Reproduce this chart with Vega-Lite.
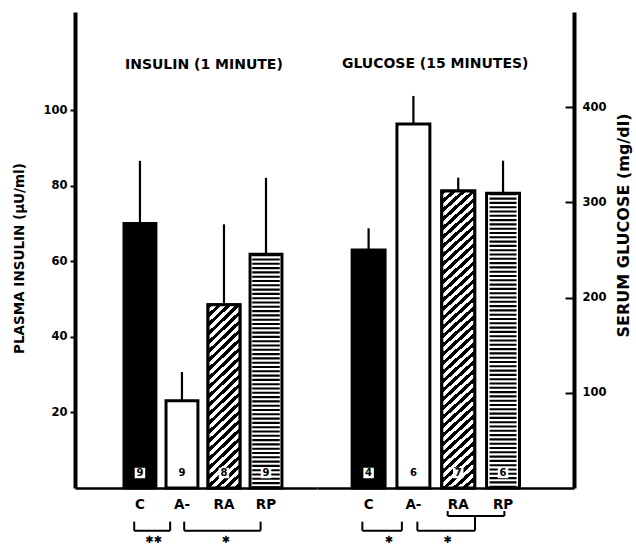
{
  "$schema": "https://vega.github.io/schema/vega-lite/v6.json",
  "padding": {"left": 12, "top": 12, "right": 5, "bottom": 0},
  "background": "white",
  "config": {"view": {"stroke": null}},
  "datasets": {
    "insulin": [
      {"g": "C", "v": 70.0, "hi": 86.6, "n": 9},
      {"g": "A-", "v": 23.1, "hi": 30.7, "n": 9},
      {"g": "RA", "v": 48.5, "hi": 69.8, "n": 8},
      {"g": "RP", "v": 61.9, "hi": 82.1, "n": 9}
    ],
    "glucose": [
      {"g": "C", "v": 250, "hi": 272.8, "n": 4},
      {"g": "A-", "v": 382.4, "hi": 411.8, "n": 6},
      {"g": "RA", "v": 312, "hi": 326, "n": 7},
      {"g": "RP", "v": 309.6, "hi": 343.8, "n": 6}
    ]
  },
  "hconcat": [
    {
      "width": 242,
      "height": 476,
      "data": {"name": "insulin"},
      "layer": [
        {
          "mark": {"type": "rule", "strokeWidth": 2.2, "color": "black"},
          "encoding": {
            "x": {"field": "g", "type": "nominal",
              "scale": {"domain": ["C", "A-", "RA", "RP"], "paddingInner": 0.241, "paddingOuter": 1.13, "align": 0.583},
              "axis": {"title": null, "ticks": false, "domainWidth": 2.5, "domainColor": "black", "labelAngle": 0,
                "labelFont": "DejaVu Sans", "labelFontWeight": "bold", "labelFontSize": 13.5, "labelColor": "black", "labelPadding": 9}},
            "y": {"field": "hi", "type": "quantitative",
              "scale": {"domain": [0, 126], "nice": false},
              "axis": {"title": "PLASMA INSULIN (µU/ml)", "values": [20, 40, 60, 80, 100], "grid": false,
                "domainWidth": 4, "domainColor": "black", "tickColor": "black", "tickWidth": 2, "tickSize": 5,
                "labelPadding": 3, "labelFont": "DejaVu Sans", "labelFontWeight": "bold", "labelFontSize": 11.5, "labelColor": "black",
                "titleFont": "DejaVu Sans", "titleFontWeight": "bold", "titleFontSize": 13.5, "titleColor": "black",
                "titleX": -55.5, "titleY": 246, "titleAngle": 270, "titleBaseline": "middle", "titleAlign": "center"}},
            "y2": {"field": "v"}
          }
        },
        {
          "mark": {"type": "bar", "stroke": "black", "strokeWidth": 3, "strokeJoin": "miter"},
          "encoding": {
            "x": {"field": "g", "type": "nominal"},
            "y": {"field": "v", "type": "quantitative"},
            "fill": {"condition": {"test": "datum.g === 'C'", "value": "black"}, "value": "white"}
          }
        },
        {
          "transform": [{"filter": "datum.g === 'RA'"}],
          "mark": {"type": "bar", "stroke": "black", "strokeWidth": 3, "strokeJoin": "miter",
            "fill": {"gradient": "linear", "x1": 0, "y1": 0, "x2": 0.3183, "y2": 1.9121, "stops": [
              {"offset": 0, "color": "#000"}, {"offset": 0.0125, "color": "#000"},
              {"offset": 0.0125, "color": "#fff"}, {"offset": 0.025, "color": "#fff"},
              {"offset": 0.025, "color": "#000"}, {"offset": 0.0375, "color": "#000"},
              {"offset": 0.0375, "color": "#fff"}, {"offset": 0.05, "color": "#fff"},
              {"offset": 0.05, "color": "#000"}, {"offset": 0.0625, "color": "#000"},
              {"offset": 0.0625, "color": "#fff"}, {"offset": 0.075, "color": "#fff"},
              {"offset": 0.075, "color": "#000"}, {"offset": 0.0875, "color": "#000"},
              {"offset": 0.0875, "color": "#fff"}, {"offset": 0.1, "color": "#fff"},
              {"offset": 0.1, "color": "#000"}, {"offset": 0.1125, "color": "#000"},
              {"offset": 0.1125, "color": "#fff"}, {"offset": 0.125, "color": "#fff"},
              {"offset": 0.125, "color": "#000"}, {"offset": 0.1375, "color": "#000"},
              {"offset": 0.1375, "color": "#fff"}, {"offset": 0.15, "color": "#fff"},
              {"offset": 0.15, "color": "#000"}, {"offset": 0.1625, "color": "#000"},
              {"offset": 0.1625, "color": "#fff"}, {"offset": 0.175, "color": "#fff"},
              {"offset": 0.175, "color": "#000"}, {"offset": 0.1875, "color": "#000"},
              {"offset": 0.1875, "color": "#fff"}, {"offset": 0.2, "color": "#fff"},
              {"offset": 0.2, "color": "#000"}, {"offset": 0.2125, "color": "#000"},
              {"offset": 0.2125, "color": "#fff"}, {"offset": 0.225, "color": "#fff"},
              {"offset": 0.225, "color": "#000"}, {"offset": 0.2375, "color": "#000"},
              {"offset": 0.2375, "color": "#fff"}, {"offset": 0.25, "color": "#fff"},
              {"offset": 0.25, "color": "#000"}, {"offset": 0.2625, "color": "#000"},
              {"offset": 0.2625, "color": "#fff"}, {"offset": 0.275, "color": "#fff"},
              {"offset": 0.275, "color": "#000"}, {"offset": 0.2875, "color": "#000"},
              {"offset": 0.2875, "color": "#fff"}, {"offset": 0.3, "color": "#fff"},
              {"offset": 0.3, "color": "#000"}, {"offset": 0.3125, "color": "#000"},
              {"offset": 0.3125, "color": "#fff"}, {"offset": 0.325, "color": "#fff"},
              {"offset": 0.325, "color": "#000"}, {"offset": 0.3375, "color": "#000"},
              {"offset": 0.3375, "color": "#fff"}, {"offset": 0.35, "color": "#fff"},
              {"offset": 0.35, "color": "#000"}, {"offset": 0.3625, "color": "#000"},
              {"offset": 0.3625, "color": "#fff"}, {"offset": 0.375, "color": "#fff"},
              {"offset": 0.375, "color": "#000"}, {"offset": 0.3875, "color": "#000"},
              {"offset": 0.3875, "color": "#fff"}, {"offset": 0.4, "color": "#fff"},
              {"offset": 0.4, "color": "#000"}, {"offset": 0.4125, "color": "#000"},
              {"offset": 0.4125, "color": "#fff"}, {"offset": 0.425, "color": "#fff"},
              {"offset": 0.425, "color": "#000"}, {"offset": 0.4375, "color": "#000"},
              {"offset": 0.4375, "color": "#fff"}, {"offset": 0.45, "color": "#fff"},
              {"offset": 0.45, "color": "#000"}, {"offset": 0.4625, "color": "#000"},
              {"offset": 0.4625, "color": "#fff"}, {"offset": 0.475, "color": "#fff"},
              {"offset": 0.475, "color": "#000"}, {"offset": 0.4875, "color": "#000"},
              {"offset": 0.4875, "color": "#fff"}, {"offset": 0.5, "color": "#fff"},
              {"offset": 0.5, "color": "#000"}, {"offset": 0.5125, "color": "#000"},
              {"offset": 0.5125, "color": "#fff"}, {"offset": 0.525, "color": "#fff"},
              {"offset": 0.525, "color": "#000"}, {"offset": 0.5375, "color": "#000"},
              {"offset": 0.5375, "color": "#fff"}, {"offset": 0.55, "color": "#fff"},
              {"offset": 0.55, "color": "#000"}, {"offset": 0.5625, "color": "#000"},
              {"offset": 0.5625, "color": "#fff"}, {"offset": 0.575, "color": "#fff"},
              {"offset": 0.575, "color": "#000"}, {"offset": 0.5875, "color": "#000"},
              {"offset": 0.5875, "color": "#fff"}, {"offset": 0.6, "color": "#fff"}
            ]}},
          "encoding": {
            "x": {"field": "g", "type": "nominal"},
            "y": {"field": "v", "type": "quantitative"}
          }
        },
        {
          "transform": [{"filter": "datum.g === 'RP'"}],
          "mark": {"type": "rule", "strokeWidth": 27.5, "strokeDash": [2.1, 2.2], "strokeCap": "butt", "color": "black"},
          "encoding": {
            "x": {"field": "g", "type": "nominal"},
            "y": {"field": "v", "type": "quantitative"},
            "y2": {"datum": 0}
          }
        },
        {
          "mark": {"type": "square", "filled": true, "color": "white", "opacity": 1, "size": 110, "yOffset": -15},
          "encoding": {
            "x": {"field": "g", "type": "nominal"},
            "y": {"datum": 0, "type": "quantitative"}
          }
        },
        {
          "mark": {"type": "text", "dy": -15, "font": "DejaVu Sans", "fontSize": 10, "fontWeight": "bold", "baseline": "middle", "align": "center", "color": "black"},
          "encoding": {
            "x": {"field": "g", "type": "nominal"},
            "y": {"datum": 0, "type": "quantitative"},
            "text": {"field": "n"}
          }
        },
        {
          "data": {"values": [{}]},
          "layer": [
            {
              "mark": {"type": "text", "text": "INSULIN (1 MINUTE)", "font": "DejaVu Sans", "fontSize": 14, "fontWeight": "bold", "baseline": "middle", "align": "center", "color": "black"},
              "encoding": {"x": {"datum": "RA", "type": "nominal", "bandPosition": -0.13}, "y": {"datum": 112.1, "type": "quantitative"}}
            },
            {
              "mark": {"type": "rule", "strokeWidth": 2, "color": "black"},
              "encoding": {"x": {"datum": "C", "type": "nominal", "bandPosition": 0.32}, "x2": {"datum": "A-", "bandPosition": 0.13}, "y": {"datum": -11.3, "type": "quantitative"}}
            },
            {
              "mark": {"type": "rule", "strokeWidth": 2, "color": "black"},
              "encoding": {"x": {"datum": "C", "type": "nominal", "bandPosition": 0.32}, "y": {"datum": -11.3, "type": "quantitative"}, "y2": {"datum": -8.9}}
            },
            {
              "mark": {"type": "rule", "strokeWidth": 2, "color": "black"},
              "encoding": {"x": {"datum": "A-", "type": "nominal", "bandPosition": 0.13}, "y": {"datum": -11.3, "type": "quantitative"}, "y2": {"datum": -8.9}}
            },
            {
              "mark": {"type": "text", "text": "✱✱", "font": "DejaVu Sans", "fontSize": 10, "baseline": "middle", "align": "center", "color": "black"},
              "encoding": {"x": {"datum": "C", "type": "nominal", "bandPosition": 0.93}, "y": {"datum": -13.8, "type": "quantitative"}}
            },
            {
              "mark": {"type": "rule", "strokeWidth": 2, "color": "black"},
              "encoding": {"x": {"datum": "A-", "type": "nominal", "bandPosition": 0.57}, "x2": {"datum": "RP", "bandPosition": 0.33}, "y": {"datum": -11.3, "type": "quantitative"}}
            },
            {
              "mark": {"type": "rule", "strokeWidth": 2, "color": "black"},
              "encoding": {"x": {"datum": "A-", "type": "nominal", "bandPosition": 0.57}, "y": {"datum": -11.3, "type": "quantitative"}, "y2": {"datum": -8.9}}
            },
            {
              "mark": {"type": "rule", "strokeWidth": 2, "color": "black"},
              "encoding": {"x": {"datum": "RP", "type": "nominal", "bandPosition": 0.33}, "y": {"datum": -11.3, "type": "quantitative"}, "y2": {"datum": -8.9}}
            },
            {
              "mark": {"type": "text", "text": "✱", "font": "DejaVu Sans", "fontSize": 10, "baseline": "middle", "align": "center", "color": "black"},
              "encoding": {"x": {"datum": "RA", "type": "nominal", "bandPosition": 0.56}, "y": {"datum": -13.8, "type": "quantitative"}}
            }
          ]
        }
      ]
    },
    {
      "width": 257,
      "height": 476,
      "data": {"name": "glucose"},
      "layer": [
        {
          "mark": {"type": "rule", "strokeWidth": 2.2, "color": "black"},
          "encoding": {
            "x": {"field": "g", "type": "nominal",
              "scale": {"domain": ["C", "A-", "RA", "RP"], "paddingInner": 0.265, "paddingOuter": 1.282, "align": 0.392},
              "axis": {"title": null, "ticks": false, "domainWidth": 2.5, "domainColor": "black", "labelAngle": 0,
                "labelFont": "DejaVu Sans", "labelFontWeight": "bold", "labelFontSize": 13.5, "labelColor": "black", "labelPadding": 9}},
            "y": {"field": "hi", "type": "quantitative",
              "scale": {"domain": [0, 500], "nice": false},
              "axis": {"orient": "right", "title": "SERUM GLUCOSE (mg/dl)", "values": [100, 200, 300, 400], "grid": false,
                "domainWidth": 4, "domainColor": "black", "tickColor": "black", "tickWidth": 2, "tickSize": -9,
                "labelPadding": 17, "labelFont": "DejaVu Sans", "labelFontWeight": "bold", "labelFontSize": 11.5, "labelColor": "black",
                "titleFont": "DejaVu Sans", "titleFontWeight": "bold", "titleFontSize": 16, "titleColor": "black",
                "titleX": 49.5, "titleY": 213, "titleAngle": 270, "titleBaseline": "middle", "titleAlign": "center"}},
            "y2": {"field": "v"}
          }
        },
        {
          "mark": {"type": "bar", "stroke": "black", "strokeWidth": 3, "strokeJoin": "miter"},
          "encoding": {
            "x": {"field": "g", "type": "nominal"},
            "y": {"field": "v", "type": "quantitative"},
            "fill": {"condition": {"test": "datum.g === 'C'", "value": "black"}, "value": "white"}
          }
        },
        {
          "transform": [{"filter": "datum.g === 'RA'"}],
          "mark": {"type": "bar", "stroke": "black", "strokeWidth": 3, "strokeJoin": "miter",
            "fill": {"gradient": "linear", "x1": 0, "y1": 0, "x2": 0.1212, "y2": 1.2, "stops": [
              {"offset": 0, "color": "#000"}, {"offset": 0.0125, "color": "#000"},
              {"offset": 0.0125, "color": "#fff"}, {"offset": 0.025, "color": "#fff"},
              {"offset": 0.025, "color": "#000"}, {"offset": 0.0375, "color": "#000"},
              {"offset": 0.0375, "color": "#fff"}, {"offset": 0.05, "color": "#fff"},
              {"offset": 0.05, "color": "#000"}, {"offset": 0.0625, "color": "#000"},
              {"offset": 0.0625, "color": "#fff"}, {"offset": 0.075, "color": "#fff"},
              {"offset": 0.075, "color": "#000"}, {"offset": 0.0875, "color": "#000"},
              {"offset": 0.0875, "color": "#fff"}, {"offset": 0.1, "color": "#fff"},
              {"offset": 0.1, "color": "#000"}, {"offset": 0.1125, "color": "#000"},
              {"offset": 0.1125, "color": "#fff"}, {"offset": 0.125, "color": "#fff"},
              {"offset": 0.125, "color": "#000"}, {"offset": 0.1375, "color": "#000"},
              {"offset": 0.1375, "color": "#fff"}, {"offset": 0.15, "color": "#fff"},
              {"offset": 0.15, "color": "#000"}, {"offset": 0.1625, "color": "#000"},
              {"offset": 0.1625, "color": "#fff"}, {"offset": 0.175, "color": "#fff"},
              {"offset": 0.175, "color": "#000"}, {"offset": 0.1875, "color": "#000"},
              {"offset": 0.1875, "color": "#fff"}, {"offset": 0.2, "color": "#fff"},
              {"offset": 0.2, "color": "#000"}, {"offset": 0.2125, "color": "#000"},
              {"offset": 0.2125, "color": "#fff"}, {"offset": 0.225, "color": "#fff"},
              {"offset": 0.225, "color": "#000"}, {"offset": 0.2375, "color": "#000"},
              {"offset": 0.2375, "color": "#fff"}, {"offset": 0.25, "color": "#fff"},
              {"offset": 0.25, "color": "#000"}, {"offset": 0.2625, "color": "#000"},
              {"offset": 0.2625, "color": "#fff"}, {"offset": 0.275, "color": "#fff"},
              {"offset": 0.275, "color": "#000"}, {"offset": 0.2875, "color": "#000"},
              {"offset": 0.2875, "color": "#fff"}, {"offset": 0.3, "color": "#fff"},
              {"offset": 0.3, "color": "#000"}, {"offset": 0.3125, "color": "#000"},
              {"offset": 0.3125, "color": "#fff"}, {"offset": 0.325, "color": "#fff"},
              {"offset": 0.325, "color": "#000"}, {"offset": 0.3375, "color": "#000"},
              {"offset": 0.3375, "color": "#fff"}, {"offset": 0.35, "color": "#fff"},
              {"offset": 0.35, "color": "#000"}, {"offset": 0.3625, "color": "#000"},
              {"offset": 0.3625, "color": "#fff"}, {"offset": 0.375, "color": "#fff"},
              {"offset": 0.375, "color": "#000"}, {"offset": 0.3875, "color": "#000"},
              {"offset": 0.3875, "color": "#fff"}, {"offset": 0.4, "color": "#fff"},
              {"offset": 0.4, "color": "#000"}, {"offset": 0.4125, "color": "#000"},
              {"offset": 0.4125, "color": "#fff"}, {"offset": 0.425, "color": "#fff"},
              {"offset": 0.425, "color": "#000"}, {"offset": 0.4375, "color": "#000"},
              {"offset": 0.4375, "color": "#fff"}, {"offset": 0.45, "color": "#fff"},
              {"offset": 0.45, "color": "#000"}, {"offset": 0.4625, "color": "#000"},
              {"offset": 0.4625, "color": "#fff"}, {"offset": 0.475, "color": "#fff"},
              {"offset": 0.475, "color": "#000"}, {"offset": 0.4875, "color": "#000"},
              {"offset": 0.4875, "color": "#fff"}, {"offset": 0.5, "color": "#fff"},
              {"offset": 0.5, "color": "#000"}, {"offset": 0.5125, "color": "#000"},
              {"offset": 0.5125, "color": "#fff"}, {"offset": 0.525, "color": "#fff"},
              {"offset": 0.525, "color": "#000"}, {"offset": 0.5375, "color": "#000"},
              {"offset": 0.5375, "color": "#fff"}, {"offset": 0.55, "color": "#fff"},
              {"offset": 0.55, "color": "#000"}, {"offset": 0.5625, "color": "#000"},
              {"offset": 0.5625, "color": "#fff"}, {"offset": 0.575, "color": "#fff"},
              {"offset": 0.575, "color": "#000"}, {"offset": 0.5875, "color": "#000"},
              {"offset": 0.5875, "color": "#fff"}, {"offset": 0.6, "color": "#fff"},
              {"offset": 0.6, "color": "#000"}, {"offset": 0.6125, "color": "#000"},
              {"offset": 0.6125, "color": "#fff"}, {"offset": 0.625, "color": "#fff"},
              {"offset": 0.625, "color": "#000"}, {"offset": 0.6375, "color": "#000"},
              {"offset": 0.6375, "color": "#fff"}, {"offset": 0.65, "color": "#fff"},
              {"offset": 0.65, "color": "#000"}, {"offset": 0.6625, "color": "#000"},
              {"offset": 0.6625, "color": "#fff"}, {"offset": 0.675, "color": "#fff"},
              {"offset": 0.675, "color": "#000"}, {"offset": 0.6875, "color": "#000"},
              {"offset": 0.6875, "color": "#fff"}, {"offset": 0.7, "color": "#fff"},
              {"offset": 0.7, "color": "#000"}, {"offset": 0.7125, "color": "#000"},
              {"offset": 0.7125, "color": "#fff"}, {"offset": 0.725, "color": "#fff"},
              {"offset": 0.725, "color": "#000"}, {"offset": 0.7375, "color": "#000"},
              {"offset": 0.7375, "color": "#fff"}, {"offset": 0.75, "color": "#fff"},
              {"offset": 0.75, "color": "#000"}, {"offset": 0.7625, "color": "#000"},
              {"offset": 0.7625, "color": "#fff"}, {"offset": 0.775, "color": "#fff"},
              {"offset": 0.775, "color": "#000"}, {"offset": 0.7875, "color": "#000"},
              {"offset": 0.7875, "color": "#fff"}, {"offset": 0.8, "color": "#fff"},
              {"offset": 0.8, "color": "#000"}, {"offset": 0.8125, "color": "#000"},
              {"offset": 0.8125, "color": "#fff"}, {"offset": 0.825, "color": "#fff"},
              {"offset": 0.825, "color": "#000"}, {"offset": 0.8375, "color": "#000"},
              {"offset": 0.8375, "color": "#fff"}, {"offset": 0.85, "color": "#fff"},
              {"offset": 0.85, "color": "#000"}, {"offset": 0.8625, "color": "#000"},
              {"offset": 0.8625, "color": "#fff"}, {"offset": 0.875, "color": "#fff"},
              {"offset": 0.875, "color": "#000"}, {"offset": 0.8875, "color": "#000"},
              {"offset": 0.8875, "color": "#fff"}, {"offset": 0.9, "color": "#fff"},
              {"offset": 0.9, "color": "#000"}, {"offset": 0.9125, "color": "#000"}
            ]}},
          "encoding": {
            "x": {"field": "g", "type": "nominal"},
            "y": {"field": "v", "type": "quantitative"}
          }
        },
        {
          "transform": [{"filter": "datum.g === 'RP'"}],
          "mark": {"type": "rule", "strokeWidth": 27, "strokeDash": [2.1, 2.2], "strokeCap": "butt", "color": "black"},
          "encoding": {
            "x": {"field": "g", "type": "nominal"},
            "y": {"field": "v", "type": "quantitative"},
            "y2": {"datum": 0}
          }
        },
        {
          "mark": {"type": "square", "filled": true, "color": "white", "opacity": 1, "size": 110, "yOffset": -15},
          "encoding": {
            "x": {"field": "g", "type": "nominal"},
            "y": {"datum": 0, "type": "quantitative"}
          }
        },
        {
          "mark": {"type": "text", "dy": -15, "font": "DejaVu Sans", "fontSize": 10, "fontWeight": "bold", "baseline": "middle", "align": "center", "color": "black"},
          "encoding": {
            "x": {"field": "g", "type": "nominal"},
            "y": {"datum": 0, "type": "quantitative"},
            "text": {"field": "n"}
          }
        },
        {
          "data": {"values": [{}]},
          "layer": [
            {
              "mark": {"type": "text", "text": "GLUCOSE (15 MINUTES)", "font": "DejaVu Sans", "fontSize": 14, "fontWeight": "bold", "baseline": "middle", "align": "center", "color": "black"},
              "encoding": {"x": {"datum": "RA", "type": "nominal", "bandPosition": -0.2}, "y": {"datum": 445, "type": "quantitative"}}
            },
            {
              "mark": {"type": "rule", "strokeWidth": 2, "color": "black"},
              "encoding": {"x": {"datum": "C", "type": "nominal", "bandPosition": 0.31}, "x2": {"datum": "A-", "bandPosition": 0.15}, "y": {"datum": -44.8, "type": "quantitative"}}
            },
            {
              "mark": {"type": "rule", "strokeWidth": 2, "color": "black"},
              "encoding": {"x": {"datum": "C", "type": "nominal", "bandPosition": 0.31}, "y": {"datum": -44.8, "type": "quantitative"}, "y2": {"datum": -35.4}}
            },
            {
              "mark": {"type": "rule", "strokeWidth": 2, "color": "black"},
              "encoding": {"x": {"datum": "A-", "type": "nominal", "bandPosition": 0.15}, "y": {"datum": -44.8, "type": "quantitative"}, "y2": {"datum": -35.4}}
            },
            {
              "mark": {"type": "text", "text": "✱", "font": "DejaVu Sans", "fontSize": 10, "baseline": "middle", "align": "center", "color": "black"},
              "encoding": {"x": {"datum": "C", "type": "nominal", "bandPosition": 1.12}, "y": {"datum": -54.6, "type": "quantitative"}}
            },
            {
              "mark": {"type": "rule", "strokeWidth": 2, "color": "black"},
              "encoding": {"x": {"datum": "A-", "type": "nominal", "bandPosition": 0.62}, "x2": {"datum": "RA", "bandPosition": 1.01}, "y": {"datum": -44.8, "type": "quantitative"}}
            },
            {
              "mark": {"type": "rule", "strokeWidth": 2, "color": "black"},
              "encoding": {"x": {"datum": "A-", "type": "nominal", "bandPosition": 0.62}, "y": {"datum": -44.8, "type": "quantitative"}, "y2": {"datum": -35.4}}
            },
            {
              "mark": {"type": "rule", "strokeWidth": 2, "color": "black"},
              "encoding": {"x": {"datum": "RA", "type": "nominal", "bandPosition": 1.01}, "y": {"datum": -44.8, "type": "quantitative"}, "y2": {"datum": -29.4}}
            },
            {
              "mark": {"type": "text", "text": "✱", "font": "DejaVu Sans", "fontSize": 10, "baseline": "middle", "align": "center", "color": "black"},
              "encoding": {"x": {"datum": "RA", "type": "nominal", "bandPosition": 0.18}, "y": {"datum": -54.6, "type": "quantitative"}}
            },
            {
              "mark": {"type": "rule", "strokeWidth": 2, "color": "black"},
              "encoding": {"x": {"datum": "RA", "type": "nominal", "bandPosition": 0.18}, "x2": {"datum": "RP", "bandPosition": 0.54}, "y": {"datum": -29.4, "type": "quantitative"}}
            },
            {
              "mark": {"type": "rule", "strokeWidth": 2, "color": "black"},
              "encoding": {"x": {"datum": "RA", "type": "nominal", "bandPosition": 0.18}, "y": {"datum": -29.4, "type": "quantitative"}, "y2": {"datum": -24.2}}
            },
            {
              "mark": {"type": "rule", "strokeWidth": 2, "color": "black"},
              "encoding": {"x": {"datum": "RP", "type": "nominal", "bandPosition": 0.54}, "y": {"datum": -29.4, "type": "quantitative"}, "y2": {"datum": -24.2}}
            }
          ]
        }
      ]
    }
  ],
  "spacing": 0,
  "bounds": "flush"
}
